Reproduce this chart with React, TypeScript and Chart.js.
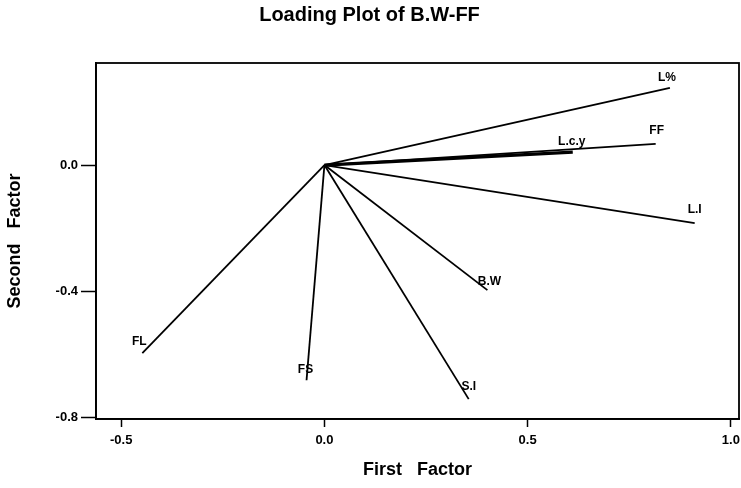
import React, { useEffect, useRef } from "react";
import { Chart, registerables } from "chart.js";

Chart.register(...registerables);

const variableNames = ["L%", "FF", "L.c.y", "L.I", "B.W", "S.I", "FS", "FL"];
const firstFactor = [0.85, 0.815, 0.611, 0.911, 0.401, 0.355, -0.044, -0.448];
const secondFactor = [0.245, 0.067, 0.041, -0.184, -0.397, -0.743, -0.683, -0.597];
const xTickValues = [-0.5, 0.0, 0.5, 1.0];
const yTickValues = [0.0, -0.4, -0.8];

// label placement relative to vector tip (px) – style only
const labelOffsets: [number, number][] = [
  [-3, -10],
  [1, -13],
  [-1, -10],
  [0, -13],
  [2, -8],
  [0, -12],
  [-1, -11],
  [-3, -11],
];
const lineWidths = [1.8, 1.8, 3.2, 1.8, 1.8, 1.8, 1.8, 1.8];

const FONT = "'Liberation Sans', Arial, Helvetica, sans-serif";

export default function App() {
  const ref = useRef<HTMLCanvasElement | null>(null);

  useEffect(() => {
    if (!ref.current) return;

    const labelPlugin = {
      id: "vectorLabels",
      afterDatasetsDraw(chart: any) {
        const ctx = chart.ctx;
        ctx.save();
        ctx.fillStyle = "#000";
        ctx.font = `bold 12px ${FONT}`;
        ctx.textAlign = "center";
        ctx.textBaseline = "middle";
        chart.data.datasets.forEach((ds: any, i: number) => {
          const meta = chart.getDatasetMeta(i);
          const tip = meta.data[1];
          if (!tip) return;
          const [dx, dy] = labelOffsets[i];
          ctx.fillText(ds.label, tip.x + dx, tip.y + dy);
        });
        ctx.restore();
      },
    };

    const framePlugin = {
      id: "frame",
      afterDraw(chart: any) {
        const { ctx, chartArea } = chart;
        ctx.save();
        ctx.strokeStyle = "#000";
        ctx.lineWidth = 1.8;
        ctx.strokeRect(
          chartArea.left,
          chartArea.top,
          chartArea.right - chartArea.left,
          chartArea.bottom - chartArea.top
        );
        ctx.restore();
      },
    };

    const chart = new Chart(ref.current, {
      type: "scatter",
      data: {
        datasets: variableNames.map((name, i) => ({
          label: name,
          data: [
            { x: 0, y: 0 },
            { x: firstFactor[i], y: secondFactor[i] },
          ],
          showLine: true,
          borderColor: "#000",
          backgroundColor: "#000",
          borderWidth: lineWidths[i],
          pointRadius: 0,
          pointHoverRadius: 0,
        })),
      },
      options: {
        animation: false,
        responsive: false,
        devicePixelRatio: 1,
        layout: { padding: { left: 0, right: 2, top: 0, bottom: 0 } },
        plugins: {
          legend: { display: false },
          tooltip: { enabled: false },
          title: {
            display: true,
            text: "Loading Plot of B.W-FF",
            color: "#000",
            font: { family: FONT, size: 20, weight: "bold" },
            padding: { top: 3, bottom: 36 },
          },
        },
        scales: {
          x: {
            type: "linear",
            min: -0.562,
            max: 1.02,
            afterBuildTicks: (s: any) => {
              s.ticks = xTickValues.map((v) => ({ value: v }));
            },
            afterFit: (s: any) => {
              s.height = 69;
              s.paddingLeft = 0;
              s.paddingRight = 0;
            },
            ticks: {
              color: "#000",
              font: { family: FONT, size: 13, weight: "bold" },
              padding: 6,
              maxRotation: 0,
              callback: (v: any) => Number(v).toFixed(1),
            },
            grid: {
              display: true,
              drawOnChartArea: false,
              drawTicks: true,
              tickLength: 8,
              color: "#000",
              tickWidth: 1.5,
            },
            border: { display: true, color: "#000", width: 1.8 },
            title: {
              display: true,
              text: "First   Factor",
              color: "#000",
              font: { family: FONT, size: 18, weight: "bold" },
              padding: { top: 0, bottom: 7 },
            },
          },
          y: {
            type: "linear",
            min: -0.806,
            max: 0.324,
            afterBuildTicks: (s: any) => {
              s.ticks = yTickValues.map((v) => ({ value: v }));
            },
            afterFit: (s: any) => {
              s.width = 96;
              s.paddingTop = 0;
              s.paddingBottom = 0;
            },
            ticks: {
              color: "#000",
              font: { family: FONT, size: 13, weight: "bold" },
              padding: 3,
              callback: (v: any) => Number(v).toFixed(1),
            },
            grid: {
              display: true,
              drawOnChartArea: false,
              drawTicks: true,
              tickLength: 15,
              color: "#000",
              tickWidth: 1.5,
            },
            border: { display: true, color: "#000", width: 1.8 },
            title: {
              display: true,
              text: "Second   Factor",
              color: "#000",
              font: { family: FONT, size: 18, weight: "bold" },
              padding: { top: 4, bottom: 0 },
            },
          },
        },
      },
      plugins: [labelPlugin, framePlugin],
    } as any);

    return () => chart.destroy();
  }, []);

  return (
    <div
      style={{
        position: "fixed",
        left: 0,
        top: 0,
        width: 741,
        height: 488,
        background: "#fff",
      }}
    >
      <canvas ref={ref} width={741} height={488} />
    </div>
  );
}
